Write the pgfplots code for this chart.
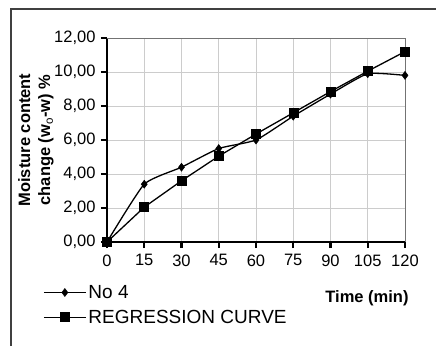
\documentclass[border=0pt]{standalone}
\usepackage{fontspec}
\setmainfont{Liberation Sans}
\usepackage{pgfplots}
\pgfplotsset{compat=1.18}
\begin{document}
\begin{tikzpicture}[x=1pt,y=1pt]
\useasboundingbox (-107,-104) rectangle (329,242);
\draw[line width=1.2pt, black!75] (-96,-104) -- (-96,233) -- (329,233);
\begin{axis}[
  at={(0,0)}, anchor=south west,
  scale only axis, width=298pt, height=204pt,
  xmin=0, xmax=120, ymin=0, ymax=12,
  xtick={0,15,...,120}, ytick={0,2,...,12},
  axis x line*=bottom, axis y line*=left,
  axis line style={line width=2.2pt, -},
  tick style={line width=2.2pt, black},
  major tick length=6pt,
  xtick align=outside, ytick align=outside,
  grid=major,
  major grid style={line width=0.8pt, black!20},
  /pgf/number format/assume math mode=true,
  yticklabel style={/pgf/number format/fixed, /pgf/number format/fixed zerofill, /pgf/number format/precision=2, /pgf/number format/use comma, xshift=-2pt},
  xticklabel style={/pgf/number format/fixed, /pgf/number format/precision=0, yshift=-3pt},
  tick label style={font=\fontsize{16.5}{18}\selectfont},
  clip=false,
  legend style={at={(-64pt,-41pt)}, anchor=north west, draw=none, fill=none,
    font=\fontsize{19}{21}\selectfont, row sep=6pt, inner sep=0pt,
    /tikz/every even column/.append style={column sep=3pt}},
  legend cell align=left,
  legend image code/.code={\draw[#1, mark repeat=2, mark phase=2] plot coordinates {(0pt,0pt) (21pt,0pt) (42pt,0pt)};},
]
\draw[black!55, line width=1pt] (axis cs:0,12) -- (axis cs:120,12) -- (axis cs:120,0);
\addplot[black, line width=1.3pt, smooth, tension=0.3, mark=diamond*, mark size=4pt, mark options={solid, line width=0.5pt}]
  coordinates {(0,0) (15,3.4) (30,4.4) (45,5.5) (60,6.0) (75,7.4) (90,8.7) (105,9.9) (120,9.8)};
\addlegendentry{No 4}
\addplot[black, line width=1.3pt, mark=square*, mark size=4.5pt, mark options={solid, line width=0.5pt}]
  coordinates {(0,0) (15,2.05) (30,3.6) (45,5.05) (60,6.35) (75,7.6) (90,8.85) (105,10.05) (120,11.2)};
\addlegendentry{REGRESSION CURVE}
\node[font=\bfseries\fontsize{16.5}{18}\selectfont] at (260pt,-56pt) {Time (min)};
\node[font=\bfseries\fontsize{16.5}{20}\selectfont, rotate=90, align=center] at (-71pt,102pt) {Moisture content\\change (w$_\mathrm{o}$-w) \%};
\end{axis}
\end{tikzpicture}
\end{document}
